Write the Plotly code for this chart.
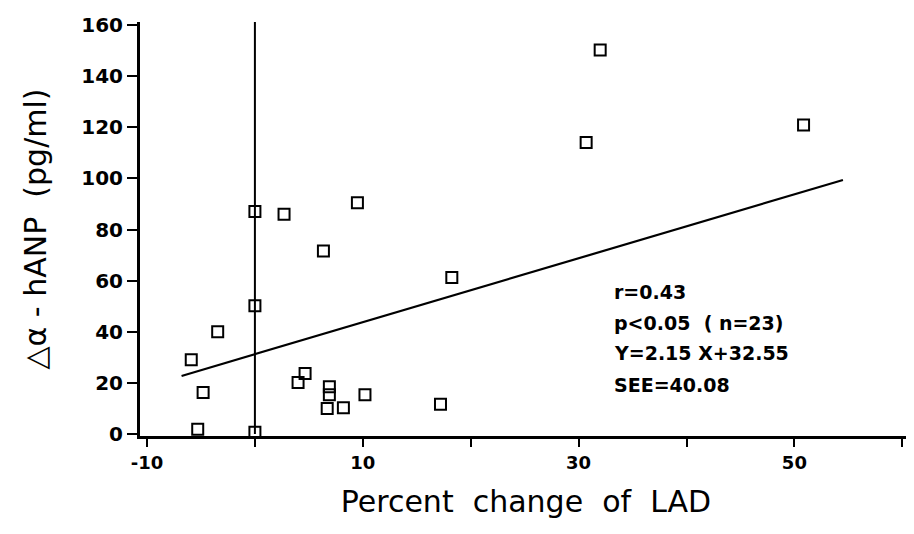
import plotly.graph_objects as go

# data
lad_change = [0.0, 2.7, 9.5, 6.35, 0.0, -3.45, -5.9, -4.8, -5.3, 0.0, 4.0, 4.65,
              6.9, 6.9, 6.7, 8.2, 10.2, 18.25, 17.2, 32.0, 30.7, 50.85]
hanp_delta = [87.0, 86.0, 90.5, 71.6, 50.2, 40.0, 29.0, 16.2, 1.8, 0.7, 20.1, 23.7,
              18.5, 15.3, 10.0, 10.3, 15.3, 61.2, 11.6, 150.2, 114.0, 120.9]

fit_x = [-6.8, 54.5]
fit_y = [22.7, 99.4]

ref_x = [0, 0]
ref_y = [0, 163]

x_tickvals = [-10, 0, 10, 20, 30, 40, 50, 60]
x_ticktext = ["-10", "", "10", "", "30", "", "50", ""]
y_tickvals = [0, 20, 40, 60, 80, 100, 120, 140, 160]

stats_lines = ["r=0.43", "p&lt;0.05  ( n=23)", "Y=2.15 X+32.55", "SEE=40.08"]
stats_y = [55.6, 43.4, 31.7, 19.2]
stats_x = 33.1

FONT = "DejaVu Sans, Liberation Sans, sans-serif"

fig = go.Figure()
fig.add_trace(go.Scatter(x=ref_x, y=ref_y, mode="lines",
                         line=dict(color="black", width=2), cliponaxis=False,
                         showlegend=False, hoverinfo="skip"))
fig.add_trace(go.Scatter(x=fit_x, y=fit_y, mode="lines",
                         line=dict(color="black", width=2.2),
                         showlegend=False))
fig.add_trace(go.Scatter(x=lad_change, y=hanp_delta, mode="markers",
                         marker=dict(symbol="square-open", size=11, color="black",
                                     line=dict(width=2, color="black")),
                         cliponaxis=False, showlegend=False))

annotations = [dict(x=stats_x, y=yv, xref="x", yref="y", xanchor="left",
                    yanchor="middle", align="left", showarrow=False, text=t,
                    font=dict(family=FONT, size=19, weight="bold"))
               for t, yv in zip(stats_lines, stats_y)]

# the page body has an 8px default margin, so the figure is 8px smaller
fig.update_layout(
    width=906, height=526,
    margin=dict(l=132, r=2, t=14, b=98),
    paper_bgcolor="white", plot_bgcolor="white",
    font=dict(family=FONT, color="black"),
    xaxis=dict(range=[-10.65, 60.9], tickvals=x_tickvals, ticktext=x_ticktext,
               ticks="outside", ticklen=8, tickwidth=2, tickcolor="black",
               showline=True, linecolor="black", linewidth=3,
               showgrid=False, zeroline=False,
               tickfont=dict(size=18, weight="bold"),
               title=dict(text="Percent  change  of  LAD", font=dict(size=30),
                          standoff=20)),
    yaxis=dict(range=[-0.8, 161.2], tickvals=y_tickvals,
               ticks="outside", ticklen=10, tickwidth=2, tickcolor="black",
               showline=True, linecolor="black", linewidth=3,
               showgrid=False, zeroline=False,
               tickfont=dict(size=20, weight="bold"),
               title=dict(text="△α - hANP  (pg/ml)", font=dict(size=30),
                          standoff=26)),
    annotations=annotations,
)

fig.write_html("out.html")
